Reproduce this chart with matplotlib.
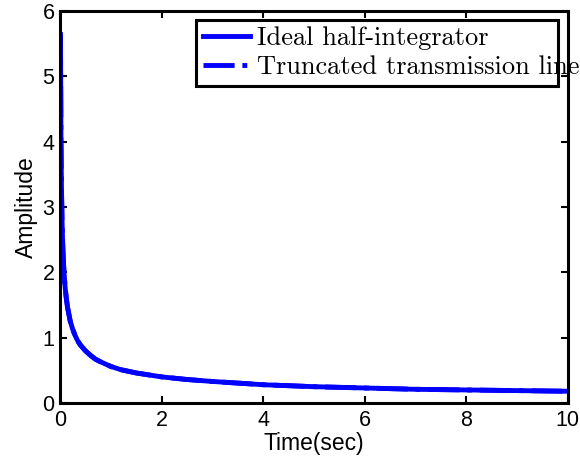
import matplotlib
matplotlib.use("Agg")
import matplotlib.pyplot as plt

# values
time = [0.01, 0.02, 0.03, 0.04, 0.05, 0.06, 0.075, 0.1, 0.125, 0.15, 0.2, 0.25,
        0.3, 0.35, 0.4, 0.5, 0.6, 0.7, 0.8, 1.0, 1.2, 1.5, 2.0, 2.5, 3.0, 4.0,
        5.0, 6.0, 7.0, 8.0, 9.0, 10.0]
ideal = [5.64, 3.99, 3.26, 2.82, 2.52, 2.30, 2.06, 1.78, 1.60, 1.46, 1.26, 1.13,
         1.03, 0.95, 0.89, 0.80, 0.73, 0.67, 0.63, 0.56, 0.51, 0.46, 0.40, 0.36,
         0.33, 0.28, 0.25, 0.23, 0.21, 0.20, 0.19, 0.18]
truncated = [5.64, 3.99, 3.26, 2.82, 2.52, 2.30, 2.06, 1.78, 1.60, 1.46, 1.26, 1.13,
             1.03, 0.95, 0.89, 0.80, 0.73, 0.67, 0.63, 0.56, 0.51, 0.46, 0.40, 0.36,
             0.33, 0.28, 0.25, 0.23, 0.21, 0.20, 0.19, 0.18]
labels = ["Ideal half-integrator", "Truncated transmission line"]
xticks = [0, 2, 4, 6, 8, 10]
yticks = [0, 1, 2, 3, 4, 5, 6]

plt.rcParams['font.family'] = ['Liberation Sans', 'DejaVu Sans']

fig = plt.figure(figsize=(5.8, 4.65), dpi=100)
ax = fig.add_axes([0.1034, 0.1333, 0.8756, 0.843])

ax.plot(time, ideal, color=(0, 0, 1), lw=3.5, label=labels[0])
ax.plot(time, truncated, color=(0, 0, 1), lw=3.5, ls='-.', label=labels[1])

ax.set_xlim(0, 10)
ax.set_ylim(0, 6)
ax.set_xticks(xticks)
ax.set_yticks(yticks)
ax.tick_params(direction='in', length=5, width=1.5, top=True, right=True,
               labelsize=15.5)
ax.tick_params(axis='x', pad=5)
ax.tick_params(axis='y', pad=4)
for s in ax.spines.values():
    s.set_linewidth(2.2)

ax.set_xlabel("Time(sec)", fontsize=16.5, labelpad=1)
ax.set_ylabel("Amplitude", fontsize=16.5, labelpad=3)

leg = ax.legend(loc='upper left', bbox_to_anchor=(0.268, 0.977, 0.712, 0.0),
                mode='expand', prop={'family': 'cmr10', 'size': 19},
                fancybox=False, framealpha=1, edgecolor='black',
                borderaxespad=0, borderpad=0.25, handlelength=1.8,
                handletextpad=0.25, labelspacing=0.2)
leg.get_frame().set_linewidth(2.2)

fig.savefig("out.png", dpi=100)
